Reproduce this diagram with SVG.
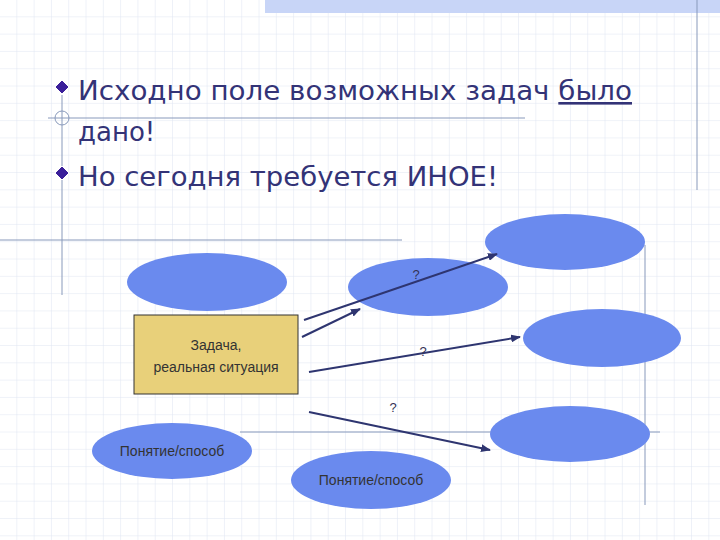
<svg xmlns="http://www.w3.org/2000/svg" width="720" height="540" viewBox="0 0 720 540">
<defs>
<pattern id="grid" width="17.3" height="17.3" patternUnits="userSpaceOnUse"><path d="M17.3 0V17.3H0" fill="none" stroke="#dfe5f2" stroke-width="1"/></pattern>
<marker id="ah" markerWidth="10" markerHeight="8" refX="9" refY="4" orient="auto" markerUnits="userSpaceOnUse"><path d="M0 0L10 4L0 8z" fill="#2e3570"/></marker>
<style>
.e{fill:#6a8aee}
.t{font-family:"DejaVu Sans",sans-serif;fill:#333377}
.s{font-family:"Liberation Sans",Arial,sans-serif;font-size:14px;fill:#333333;text-anchor:middle}
.f{stroke:#8899bb;stroke-width:1;fill:none}
.c{stroke:#2e3570;stroke-width:2;fill:none;marker-end:url(#ah)}
.q{font-family:"Liberation Sans",Arial,sans-serif;font-size:13px;fill:#333355;text-anchor:middle}
</style>
</defs>
<rect width="720" height="540" fill="#fff"/>
<rect width="720" height="540" fill="url(#grid)"/>
<rect x="265" y="0" width="455" height="13" fill="#c8d5f7"/>
<g id="frame">
<line class="f" x1="697" y1="0" x2="697" y2="190"/>
<line class="f" x1="48" y1="118" x2="525" y2="118"/>
<circle class="f" cx="62" cy="118" r="7"/>
<line class="f" x1="62" y1="95" x2="62" y2="295"/>
<line class="f" x1="0" y1="240" x2="402" y2="240"/>
<line class="f" x1="645" y1="245" x2="645" y2="505"/>
<line class="f" x1="240" y1="432" x2="660" y2="432"/>
</g>
<g id="title">
<path d="M62 80l7 7-7 7-7-7z" fill="#3a1f9a" stroke="#fff" stroke-width="1"/>
<text class="t" x="78" y="100" font-size="26" textLength="554" lengthAdjust="spacingAndGlyphs">Исходно поле возможных задач <tspan text-decoration="underline">было</tspan></text>
<text class="t" x="78" y="141" font-size="26">дано!</text>
<path d="M62 166l7 7-7 7-7-7z" fill="#3a1f9a" stroke="#fff" stroke-width="1"/>
<text class="t" x="78" y="186" font-size="26" textLength="420" lengthAdjust="spacingAndGlyphs">Но сегодня требуется ИНОЕ!</text>
</g>
<g id="e1"><ellipse class="e" cx="207" cy="282" rx="80" ry="29"/></g>
<g id="e2"><ellipse class="e" cx="428" cy="287" rx="80" ry="29"/></g>
<g id="e3"><ellipse class="e" cx="565" cy="242" rx="80" ry="28"/></g>
<g id="e4"><ellipse class="e" cx="602" cy="338" rx="79" ry="29"/></g>
<g id="e5"><ellipse class="e" cx="570" cy="434" rx="80" ry="28"/></g>
<g id="e6"><ellipse class="e" cx="172" cy="451" rx="80" ry="28"/><text class="s" x="172" y="456" fill="#333355">Понятие/способ</text></g>
<g id="e7"><ellipse class="e" cx="371" cy="480" rx="80" ry="29"/><text class="s" x="371" y="485">Понятие/способ</text></g>
<g id="task"><rect x="134" y="315" width="164" height="79" fill="#e8d07a" stroke="#333" stroke-width="1"/><text class="s" x="216" y="350">Задача,</text><text class="s" x="216" y="372">реальная ситуация</text></g>
<g id="connectors">
<line class="c" x1="304" y1="320" x2="497" y2="254"/>
<line class="c" x1="302" y1="337" x2="360" y2="309"/>
<line class="c" x1="309" y1="372" x2="520" y2="337"/>
<line class="c" x1="309" y1="412" x2="490" y2="450"/>
<text class="q" x="416" y="279">?</text>
<text class="q" x="423" y="356">?</text>
<text class="q" x="393" y="412">?</text>
</g>
</svg>
